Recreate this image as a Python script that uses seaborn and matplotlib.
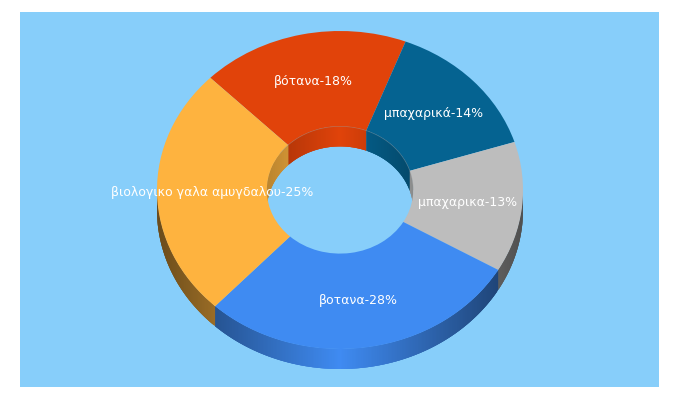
import numpy as np
import matplotlib
matplotlib.use("Agg")
import matplotlib.pyplot as plt
from matplotlib.collections import PolyCollection
import seaborn as sns

# ---- data ----
names = ["βότανα", "μπαχαρικά", "μπαχαρικα", "βοτανα", "βιολογικο γαλα αμυγδαλου"]
shares = [18, 14, 13, 28, 25]
colors = ["#E1430A", "#056391", "#BDBDBD", "#3F8BF2", "#FEB33F"]
labels = [f"{n}-{s}%" for n, s in zip(names, shares)]
background = "#87CEFA"

W, H = 680, 400
CX, CY, RX, RY = 340, 190, 183, 159
DEPTH = 20 / RY
HOLE = 0.40

sns.set_theme(style="white", rc={"font.family": ["DejaVu Sans"]})
palette = sns.color_palette(colors)

fig = plt.figure(figsize=(W / 100, H / 100), dpi=100, facecolor="white")
L, R, T, B = 20, 659, 12, 387
ax = fig.add_axes([L / W, 1 - B / H, (R - L) / W, (B - T) / H])

# clock angle (degrees clockwise from 12 o'clock) where the first slice starts
start_clock = 21 - 360 * shares[0] / sum(shares)
edges = start_clock + np.concatenate([[0], np.cumsum(shares)]) * 360 / sum(shares)


def wall(radius, lo, hi, base, visible, shade):
    """Gradient wall strips between clock angles lo..hi; each overlaps the next to hide seams."""
    polys, cols = [], []
    grid = np.append(np.arange(lo, hi, 0.5), hi)
    for a, b in zip(grid[:-1], grid[1:]):
        m = (a + b) / 2
        if not visible(m):
            continue
        arc = np.radians(np.linspace(a, min(b + 1.0, hi), 4))
        x, y = radius * np.sin(arc), radius * np.cos(arc)
        polys.append(np.column_stack([np.r_[x, x[::-1]], np.r_[y, y[::-1] - DEPTH]]))
        f = shade(radius * np.sin(np.radians(m)))
        cols.append(tuple(c * f for c in base))
    return polys, cols


front = lambda m: np.cos(np.radians(m)) < 0.02
back = lambda m: np.cos(np.radians(m)) > -0.02
outer_shade = lambda x: 1 - 0.58 * abs(x)
inner_shade = lambda x: 1 - 0.26 * abs(x) / HOLE

for i, base in enumerate(palette):
    for radius, vis, shade in ((1.0, front, outer_shade), (HOLE, back, inner_shade)):
        p, c = wall(radius, edges[i], edges[i + 1], base, vis, shade)
        if p:
            ax.add_collection(PolyCollection(p, facecolors=c, edgecolors="none", linewidths=0, zorder=1))

wedges, texts = ax.pie(
    shares,
    labels=labels,
    colors=palette,
    startangle=90 - start_clock,
    counterclock=False,
    radius=1.0,
    labeldistance=0.70,
    wedgeprops=dict(width=1 - HOLE, linewidth=0, zorder=2),
    textprops=dict(color="white", fontsize=9.0),
)
for t in texts:
    t.set_ha("center")
    t.set_va("center")
    t.set_zorder(5)

# faint rim on the back of the hole
rim = np.radians(np.linspace(-55, 90, 80))
ax.plot(HOLE * np.sin(rim), HOLE * np.cos(rim), color="#999999", lw=0.5, alpha=0.45, zorder=3)

ax.set_aspect("auto")
ax.set_frame_on(True)
ax.set_facecolor(background)
for s in ax.spines.values():
    s.set_visible(False)
ax.set_xlim((L - CX) / RX, (R - CX) / RX)
ax.set_ylim((CY - B) / RY, (CY - T) / RY)
ax.set_xticks([])
ax.set_yticks([])

fig.savefig("out.png", dpi=100, facecolor="white")
